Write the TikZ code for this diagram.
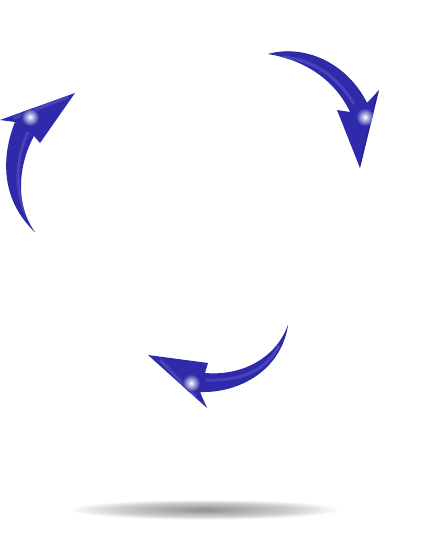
\documentclass[tikz,border=0pt]{standalone}
\usepackage{tikz}
\usetikzlibrary{calc}
\usepackage{xcolor}
\definecolor{arrowblue}{RGB}{46, 42, 170}
\definecolor{arrowdark}{RGB}{30, 26, 125}
\definecolor{arrowlite}{RGB}{92, 88, 205}
\definecolor{glowblue}{RGB}{120, 130, 255}
\tikzset{
  % Strelka tanasi
  arrowbody/.style  = {fill=arrowblue},
  arrowedge/.style  = {draw=arrowdark, line width=1.5pt, opacity=0.45},
  arrowshine/.style = {draw=arrowlite, line width=1.5pt, opacity=0.55},
  % Yorug' nuqta
  glowdot/.style    = {inner color=white, outer color=arrowblue},
  % Soya
  shadowell/.style  = {fill=black, opacity=0.012},
}

\begin{document}
\begin{tikzpicture}[x=0.5pt, y=-0.5pt]
  \useasboundingbox (0,0) rectangle (421,536);
  % Soya
  \foreach \r in {0,...,44}
    \fill[shadowell] (205,510) ellipse [x radius={135-2.9*\r}, y radius={10-0.2*\r}];
  % Chap strelka
  \begin{scope}
    \path[clip] (35,232) .. controls (6,205) and (-2,165) .. (15,122)
      -- (0,120) -- (75,93) -- (40,143) -- (34,136)
      .. controls (18,165) and (15,205) .. (35,232) -- cycle;
    \fill[arrowbody] (0,80) rectangle (90,240);
    \draw[arrowedge] (35,234) .. controls (5,205) and (-3,165) .. (13,122);
    \draw[arrowshine] (33,226) .. controls (15,200) and (13,165) .. (28,132);
    \draw[arrowshine] (14,118) -- (68,97);
    \shade[glowdot] (30,117) circle (9);
  \end{scope}
  % O'ng strelka
  \begin{scope}
    \path[clip] (268,54) .. controls (305,44) and (347,63) .. (367,103)
      -- (379,90) -- (360,168) -- (337,110) -- (350,112)
      .. controls (335,80) and (305,60) .. (268,54) -- cycle;
    \fill[arrowbody] (260,40) rectangle (390,175);
    \draw[arrowedge] (268,53) .. controls (305,43) and (348,62) .. (368,103);
    \draw[arrowedge] (379,90) -- (360,168);
    \draw[arrowshine] (282,57) .. controls (310,59) and (336,74) .. (354,104);
    \shade[glowdot] (365,117) circle (9);
  \end{scope}
  % Pastki strelka
  \begin{scope}
    \path[clip] (288,325) .. controls (281,370) and (240,393) .. (200,392)
      -- (207,408) -- (148,355) -- (208,363) -- (205,373)
      .. controls (240,376) and (275,360) .. (288,325) -- cycle;
    \fill[arrowbody] (140,320) rectangle (300,415);
    \draw[arrowedge] (289,325) .. controls (282,371) and (240,394) .. (200,393);
    \draw[arrowshine] (279,346) .. controls (265,372) and (240,381) .. (206,380);
    \draw[arrowshine] (160,360) -- (196,397);
    \shade[glowdot] (191,383) circle (9);
  \end{scope}
\end{tikzpicture}
\end{document}
